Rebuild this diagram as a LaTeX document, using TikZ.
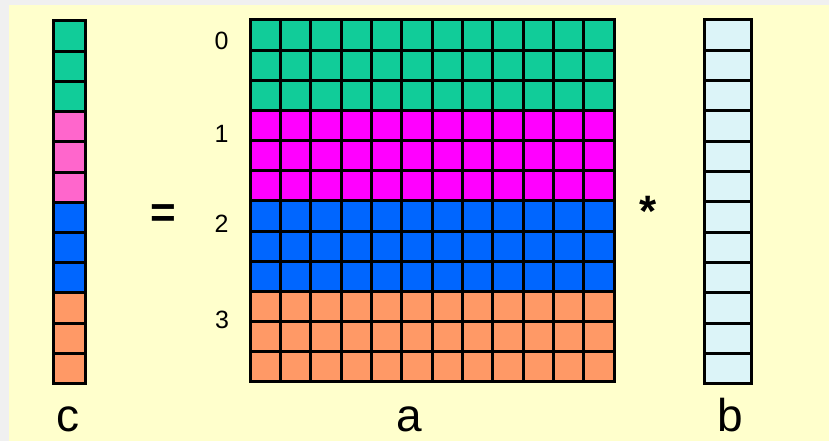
\documentclass[tikz,border=0pt]{standalone}
\usepackage{fontspec}
\setmainfont{Liberation Sans}
\definecolor{bgyel}{HTML}{FFFFCC}
\definecolor{cgreen}{HTML}{11CC99}
\definecolor{cmag}{HTML}{FF00FF}
\definecolor{cblue}{HTML}{0066FF}
\definecolor{corange}{HTML}{FF9966}
\definecolor{cpink}{HTML}{FF66CC}
\definecolor{ccyan}{HTML}{DCF4F8}
\begin{document}
\begin{tikzpicture}[x=1pt,y=-1pt,
  gridline/.style={draw=black,line width=3pt},
  digit/.style={anchor=base,font=\fontsize{25}{30}\selectfont,inner sep=0pt},
  big/.style={anchor=base,font=\fontsize{46}{50}\selectfont,inner sep=0pt},
  op/.style={anchor=base,font=\fontsize{44}{50}\selectfont\bfseries,inner sep=0pt}]
\useasboundingbox (0,0) rectangle (829,441);
\fill[white!94!black] (0,0) rectangle (829,441);
\fill[bgyel] (9,5) rectangle (829,441);
% ---- vector c
\def\cl{53}\def\cr{85}\def\ct{21}\def\ch{30.2}
\foreach \i/\col in {0/cgreen,1/cgreen,2/cgreen,3/cpink,4/cpink,5/cpink,6/cblue,7/cblue,8/cblue,9/corange,10/corange,11/corange}{
  \fill[\col] (\cl,\ct+\i*\ch) rectangle (\cr,\ct+\i*\ch+\ch);
}
\foreach \i in {1,...,11}{\draw[gridline] (\cl,\ct+\i*\ch) -- (\cr,\ct+\i*\ch);}
\draw[gridline] (\cl,\ct) rectangle (\cr,\ct+12*\ch);
% ---- matrix a
\def\al{250}\def\ar{614}\def\at{20}\def\ah{30.15}\def\aw{30.333}
\foreach \i/\col in {0/cgreen,1/cgreen,2/cgreen,3/cmag,4/cmag,5/cmag,6/cblue,7/cblue,8/cblue,9/corange,10/corange,11/corange}{
  \fill[\col] (\al,\at+\i*\ah) rectangle (\ar,\at+\i*\ah+\ah);
}
\foreach \i in {1,...,11}{
  \draw[gridline] (\al,\at+\i*\ah) -- (\ar,\at+\i*\ah);
  \draw[gridline] (\al+\i*\aw,\at) -- (\al+\i*\aw,\at+12*\ah);
}
\draw[gridline] (\al,\at) rectangle (\ar,\at+12*\ah);
% ---- vector b
\def\bl{704}\def\br{751}\def\bt{20}\def\bh{30.33}
\fill[ccyan] (\bl,\bt) rectangle (\br,\bt+12*\bh);
\foreach \i in {1,...,11}{\draw[gridline] (\bl,\bt+\i*\bh) -- (\br,\bt+\i*\bh);}
\draw[gridline] (\bl,\bt) rectangle (\br,\bt+12*\bh);
% ---- labels
\node[digit] (r0) at (221.5,50) {0};
\node[digit] (r1) at (221.5,142) {1};
\node[digit] (r2) at (221.5,232) {2};
\node[digit] (r3) at (222,328) {3};
\node[op] (eq) at (163.5,227) {=};
\node[op] (mul) at (648,226) {*};
\node[big] (lc) at (67.5,431) {c};
\node[big] (la) at (409,431) {a};
\node[big] (lb) at (730,431) {b};
\end{tikzpicture}
\end{document}
